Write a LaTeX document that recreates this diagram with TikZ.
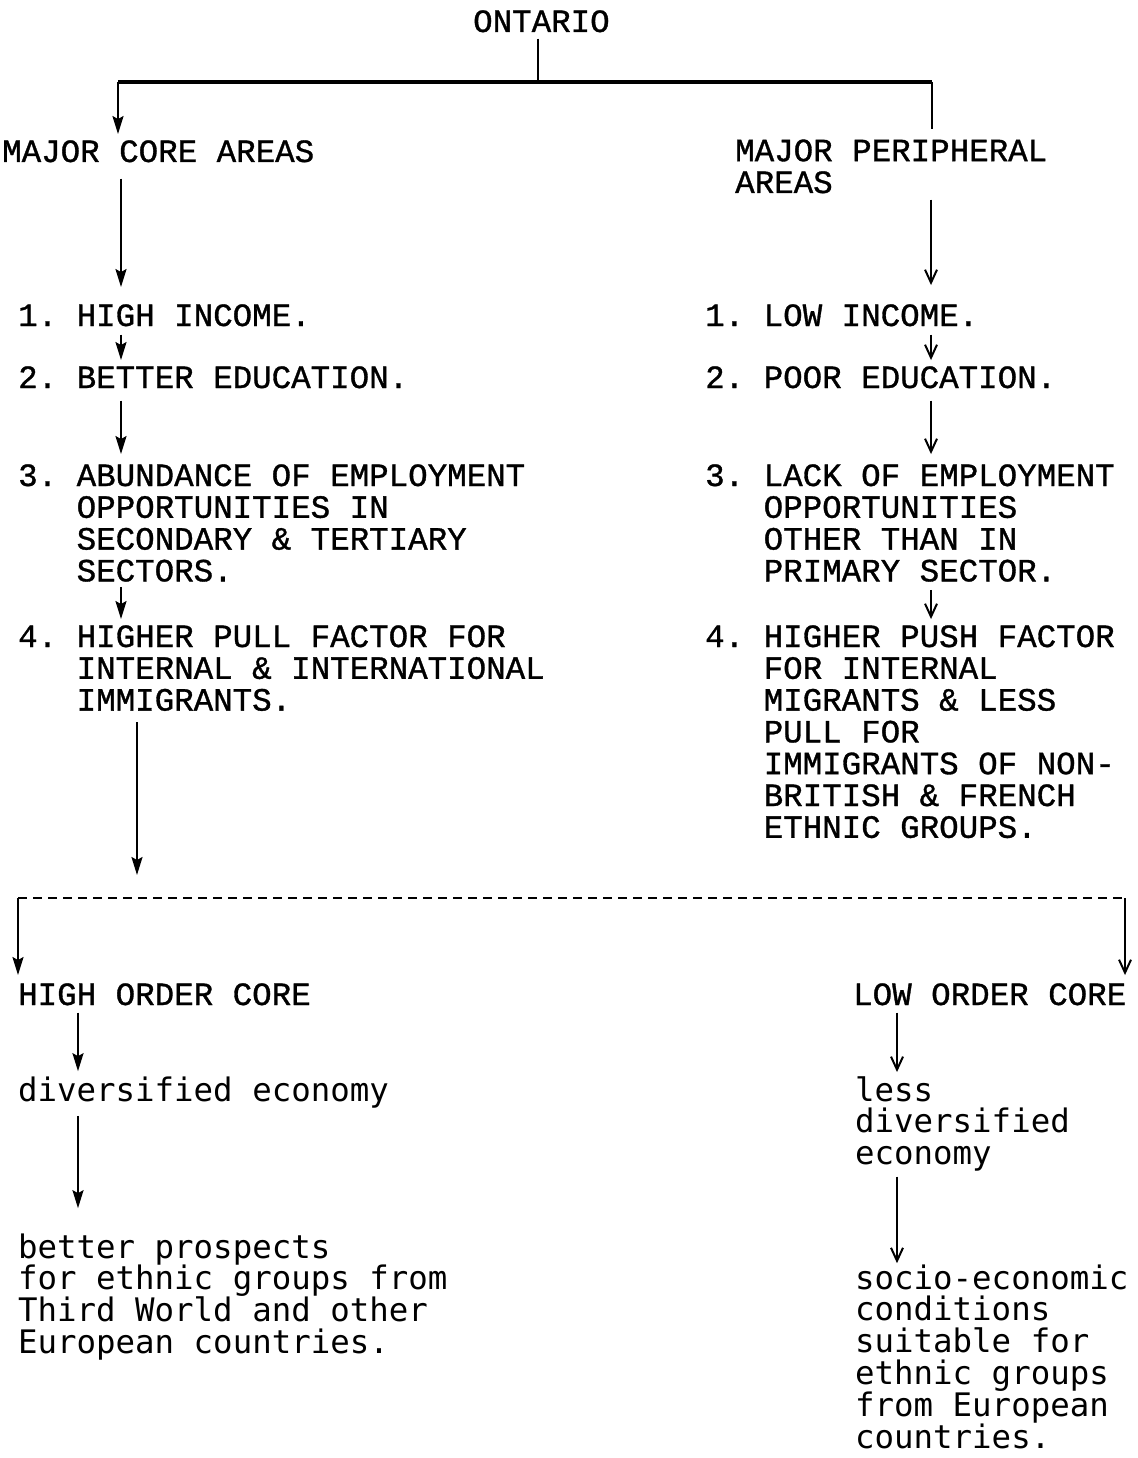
\documentclass[tikz,border=0pt]{standalone}
\usepackage{fontspec}
\newfontfamily\twfont[FakeBold=1]{Liberation Mono}
\newfontfamily\lgfont{DejaVu Sans Mono}
\usetikzlibrary{arrows.meta}
\frenchspacing
\begin{document}
\begin{tikzpicture}[x=1pt,y=-1pt,
  txt/.style={anchor=base west,inner sep=0pt,align=left,font=\twfont\fontsize{32.5}{31.8}\selectfont},
  ltxt/.style={anchor=base west,inner sep=0pt,align=left,font=\lgfont\fontsize{32.4}{31.8}\selectfont},
  arr/.style={line width=2.2pt,-{Stealth[length=18pt,width=11pt,inset=3pt]}},
  varr/.style={line width=2pt,-{Straight Barb[length=13pt,width=12pt]}},
  trunk/.style={line width=2.2pt},
  bar/.style={line width=3.8pt},
  dline/.style={line width=2pt,dash pattern=on 9pt off 6pt},
]
\useasboundingbox (0,0) rectangle (1137,1458);

% column x positions
\coordinate (cL) at (121,0);
\coordinate (cR) at (931,0);
\coordinate (cLL) at (137,0);
\coordinate (cBL) at (78,0);
\coordinate (cBR) at (897,0);

% texts (anchor: baseline of the last line)
\node[txt] (ont) at (473,32) {ONTARIO};
\node[txt] (mca) at (2,162) {MAJOR CORE AREAS};
\node[txt] (mpa) at (735,193) {MAJOR PERIPHERAL\\AREAS};

\node[txt] (h1) at (18,326) {1. HIGH INCOME.};
\node[txt] (h2) at (18,388) {2. BETTER EDUCATION.};
\node[txt] (h3) at (18,581.4) {3. ABUNDANCE OF EMPLOYMENT\\\hphantom{3.~}OPPORTUNITIES IN\\\hphantom{3.~}SECONDARY \& TERTIARY\\\hphantom{3.~}SECTORS.};
\node[txt] (h4) at (18,710.6) {4. HIGHER PULL FACTOR FOR\\\hphantom{3.~}INTERNAL \& INTERNATIONAL\\\hphantom{3.~}IMMIGRANTS.};

\node[txt] (r1) at (705,326) {1. LOW INCOME.};
\node[txt] (r2) at (705,388) {2. POOR EDUCATION.};
\node[txt] (r3) at (705,581.4) {3. LACK OF EMPLOYMENT\\\hphantom{3.~}OPPORTUNITIES\\\hphantom{3.~}OTHER THAN IN\\\hphantom{3.~}PRIMARY SECTOR.};
\node[txt] (r4) at (705,837.8) {4. HIGHER PUSH FACTOR\\\hphantom{3.~}FOR INTERNAL\\\hphantom{3.~}MIGRANTS \& LESS\\\hphantom{3.~}PULL FOR\\\hphantom{3.~}IMMIGRANTS OF NON-\\\hphantom{3.~}BRITISH \& FRENCH\\\hphantom{3.~}ETHNIC GROUPS.};

\node[txt] (hoc) at (18,1005) {HIGH ORDER CORE};
\node[txt] (loc) at (853,1005) {LOW ORDER CORE};

\node[ltxt] (div) at (18,1101) {diversified economy};
\node[ltxt] (bp) at (18,1353.4) {better prospects\\for ethnic groups from\\Third World and other\\European countries.};

\node[ltxt] (ldiv) at (855,1164.6) {less\\diversified\\economy};
\node[ltxt] (soc) at (855,1448) {socio-economic\\conditions\\suitable for\\ethnic groups\\from European\\countries.};

% top tree
\coordinate (tj) at (538,82);
\coordinate (barL) at (118,82);
\coordinate (barR) at (932,82);
\draw[trunk, shorten <=6pt] (ont.south -| tj) -- (tj);
\draw[bar] (barL) -- (barR);
\draw[arr, shorten >=6pt] (barL) -- (barL |- mca.north);
\draw[trunk, shorten >=10pt] (barR) -- (barR |- mpa.north);

% left column
\draw[arr, shorten <=16pt, shorten >=17pt] (mca.south -| cL) -- (h1.north -| cL);
\draw[arr, shorten <=8pt, shorten >=6pt] (h1.south -| cL) -- (h2.north -| cL);
\draw[arr, shorten <=12pt, shorten >=10pt] (h2.south -| cL) -- (h3.north -| cL);
\draw[arr, shorten <=5pt, shorten >=6pt] (h3.south -| cL) -- (h4.north -| cL);

% right column
\draw[varr, shorten <=6pt, shorten >=19pt] (mpa.south -| cR) -- (r1.north -| cR);
\draw[varr, shorten <=8pt, shorten >=6pt] (r1.south -| cR) -- (r2.north -| cR);
\draw[varr, shorten <=12pt, shorten >=10pt] (r2.south -| cR) -- (r3.north -| cR);
\draw[varr, shorten <=8pt, shorten >=6pt] (r3.south -| cR) -- (r4.north -| cR);

% dashed split
\coordinate (dL) at (18,898);
\coordinate (dR) at (1125,898);
\draw[arr, shorten <=11pt, shorten >=23pt] (h4.south -| cLL) -- (cLL |- dL);
\draw[dline] (dL) -- (dR);
\draw[arr, shorten >=8pt] (dL) -- (dL |- hoc.north);
\draw[varr, shorten >=8pt] (dR) -- (dR |- loc.north);

% bottom left
\draw[arr, shorten <=7pt, shorten >=5pt] (hoc.south -| cBL) -- (div.north -| cBL);
\draw[arr, shorten <=8pt, shorten >=25pt] (div.south -| cBL) -- (bp.north -| cBL);

% bottom right
\draw[varr, shorten <=7pt, shorten >=4pt] (loc.south -| cBR) -- (ldiv.north -| cBR);
\draw[varr, shorten <=5pt, shorten >=1pt] (ldiv.south -| cBR) -- (soc.north -| cBR);
\end{tikzpicture}
\end{document}
